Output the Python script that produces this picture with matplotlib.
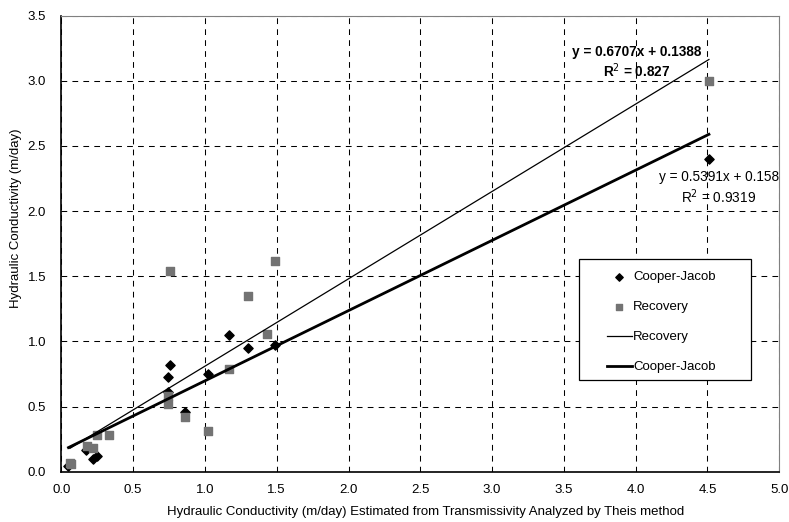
import matplotlib.pyplot as plt
from matplotlib.patches import Rectangle
import numpy as np

plt.rcParams['font.family'] = ['Liberation Sans', 'DejaVu Sans']
plt.rcParams['font.size'] = 9.5

# Cooper-Jacob points (x = Theis estimate, y = Cooper-Jacob)
cj_x = [0.05, 0.17, 0.22, 0.25, 0.74, 0.76, 0.74, 0.86, 1.02, 1.17, 1.30, 1.49, 4.51]
cj_y = [0.04, 0.17, 0.10, 0.12, 0.73, 0.82, 0.61, 0.46, 0.75, 1.05, 0.95, 0.97, 2.40]

# Recovery points
rec_x = [0.06, 0.07, 0.18, 0.22, 0.25, 0.33, 0.74, 0.74, 0.76, 0.86, 1.02, 1.17, 1.30, 1.43, 1.49, 4.51]
rec_y = [0.07, 0.06, 0.20, 0.18, 0.28, 0.28, 0.58, 0.52, 1.54, 0.42, 0.31, 0.79, 1.35, 1.06, 1.62, 3.00]

# trendline coefficients as printed on the chart
rec_slope, rec_icpt = 0.6707, 0.1388
cj_slope, cj_icpt = 0.5391, 0.158

fig = plt.figure(figsize=(7.89, 5.22), dpi=100)
ax = fig.add_axes([0.0777, 0.0964, 0.910, 0.8736])

ax.scatter(cj_x, cj_y, marker='D', s=22, color='black', zorder=3, label='Cooper-Jacob')
ax.scatter(rec_x, rec_y, marker='s', s=30, color='#737373', zorder=3, label='Recovery')

xx = np.array([min(rec_x), max(rec_x)])
ax.plot(xx, rec_slope * xx + rec_icpt, color='black', lw=0.9, zorder=4, label='Recovery')
xx = np.array([min(cj_x), max(cj_x)])
ax.plot(xx, cj_slope * xx + cj_icpt, color='black', lw=2.0, zorder=4, label='Cooper-Jacob')

ax.set_xlim(0, 5)
ax.set_ylim(0, 3.5)
ax.set_xticks(np.arange(0, 5.01, 0.5))
ax.set_yticks(np.arange(0, 3.51, 0.5))
ax.xaxis.set_major_formatter(plt.FormatStrFormatter('%.1f'))
ax.yaxis.set_major_formatter(plt.FormatStrFormatter('%.1f'))
ax.tick_params(axis='x', length=0, pad=9)
ax.tick_params(axis='y', length=0, pad=11)
ax.grid(True, color='black', lw=0.75, linestyle=(0, (5.5, 5)))
ax.set_axisbelow(True)

for s in ['top', 'right']:
    ax.spines[s].set_color('#808080')
    ax.spines[s].set_linewidth(0.8)
for s in ['left', 'bottom']:
    ax.spines[s].set_color('black')
    ax.spines[s].set_linewidth(1.2)

ax.text(4.01, 3.22, 'y = 0.6707x + 0.1388', ha='center', va='center', fontsize=9.8, fontweight='bold')
ax.text(4.01, 3.075, r'R$^2$ = 0.827', ha='center', va='center', fontsize=9.8, fontweight='bold')
ax.text(4.58, 2.26, 'y = 0.5391x + 0.158', ha='center', va='center', fontsize=9.8)
ax.text(4.58, 2.11, r'R$^2$ = 0.9319', ha='center', va='center', fontsize=9.8)

fig.text(16 / 789, 1 - 218 / 522, 'Hydraulic Conductivity (m/day)', rotation=90,
         ha='center', va='center', fontsize=9.5)
fig.text(426 / 789, 1 - 512 / 522,
         'Hydraulic Conductivity (m/day) Estimated from Transmissivity Analyzed by Theis method',
         ha='center', va='center', fontsize=9.5)

# legend box drawn separately so the padding matches
ax.add_patch(Rectangle((0.721, 0.201), 0.2396, 0.2654, transform=ax.transAxes,
                       facecolor='white', edgecolor='black', lw=0.9, zorder=5))
leg = ax.legend(loc='upper left', bbox_to_anchor=(0.743, 0.466), frameon=False,
                fontsize=9.5, handlelength=1.9, handletextpad=0.1, labelspacing=1.35,
                borderpad=0.4, markerscale=0.8)
leg.set_zorder(6)

fig.savefig('out.png', dpi=100)
